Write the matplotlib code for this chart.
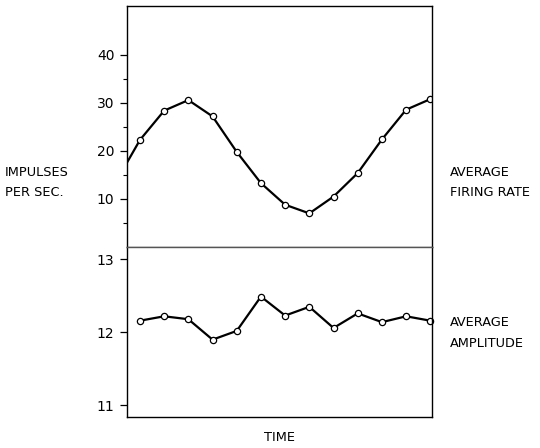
import matplotlib
matplotlib.use("Agg")
import matplotlib.pyplot as plt
import numpy as np

# time steps (first firing-rate point lies just off the left edge)
time_rate = [-1, 0, 1, 2, 3, 4, 5, 6, 7, 8, 9, 10, 11, 12]
firing_rate = [13.5, 22.3, 28.4, 30.6, 27.2, 19.8, 13.3, 8.8, 7.0, 10.5, 15.4, 22.4, 28.6, 30.8]

time_amp = [0, 1, 2, 3, 4, 5, 6, 7, 8, 9, 10, 11, 12]
amplitude = [12.16, 12.22, 12.18, 11.90, 12.02, 12.49, 12.23, 12.35, 12.06, 12.26, 12.14, 12.22, 12.16]

rate_ticks = [10, 20, 30, 40]
rate_minor = [5, 15, 25, 35]
amp_ticks = [11, 12, 13]

plt.rcParams['font.family'] = ['DejaVu Sans']

fig = plt.figure(figsize=(5.4, 4.48), dpi=100)
left, width = 0.235, 0.565
ax1 = fig.add_axes([left, 0.4487, width, 0.9866 - 0.4487])
ax2 = fig.add_axes([left, 0.0692, width, 0.4487 - 0.0692])

line_kw = dict(color='black', linewidth=1.6, marker='o', markersize=4.5,
               markerfacecolor='white', markeredgecolor='black', markeredgewidth=0.9)

ax1.plot(time_rate, firing_rate, clip_on=True, **line_kw)
ax1.set_xlim(-0.54, 12.07)
ax1.set_ylim(0, 50.2)
ax1.set_yticks(rate_ticks)
ax1.set_yticks(rate_minor, minor=True)
ax1.set_xticks([])

ax2.plot(time_amp, amplitude, clip_on=False, **line_kw)
ax2.set_xlim(-0.54, 12.07)
ax2.set_ylim(10.84, 13.17)
ax2.set_yticks(amp_ticks)
ax2.set_xticks([])

for ax in (ax1, ax2):
    for s in ax.spines.values():
        s.set_linewidth(1.0)
    ax.tick_params(axis='y', which='major', direction='out', length=5, width=0.9,
                   labelsize=10, pad=4)
    ax.tick_params(axis='y', which='minor', direction='out', length=3, width=0.8)
ax1.spines['bottom'].set_color('#555555')
ax2.spines['top'].set_color('#555555')

fs = 9.3
fig.text(5 / 540, 1 - 172 / 448, "IMPULSES", fontsize=fs, va='center', ha='left')
fig.text(5 / 540, 1 - 193 / 448, "PER SEC.", fontsize=fs, va='center', ha='left')
fig.text(450 / 540, 1 - 172 / 448, "AVERAGE", fontsize=fs, va='center', ha='left')
fig.text(450 / 540, 1 - 193 / 448, "FIRING RATE", fontsize=fs, va='center', ha='left')
fig.text(450 / 540, 1 - 322 / 448, "AVERAGE", fontsize=fs, va='center', ha='left')
fig.text(450 / 540, 1 - 343 / 448, "AMPLITUDE", fontsize=fs, va='center', ha='left')
fig.text(279 / 540, 1 - 437 / 448, "TIME", fontsize=fs, va='center', ha='center')

fig.savefig("out.png", dpi=100)
